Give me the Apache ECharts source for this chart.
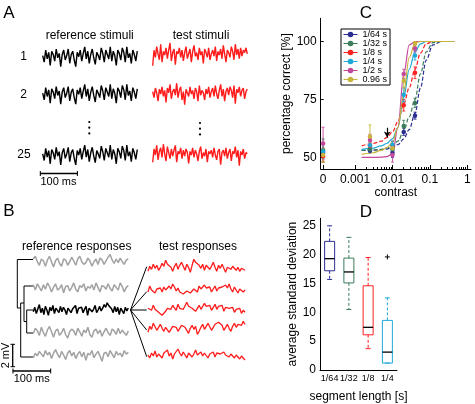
<!DOCTYPE html>
<html><head><meta charset="utf-8">
<script src="https://cdn.jsdelivr.net/npm/echarts@6/dist/echarts.min.js"></script>
<style>html,body{margin:0;padding:0;background:#fff}#c{width:475px;height:404px}</style>
</head><body><div id="c"></div>
<script>
// ---------------- DATA ----------------
// Panel A: stimulus traces
const A_REF_STIM = [0.1,-0.5,0.6,-0.2,0.4,-0.8,0.5,0.2,-0.4,0.7,-0.1,0.3,-0.9,0.2,0.6,-0.3,0.1,0.7,-0.6,0.2,0.5,-0.3,-0.9,0.4,0.0,0.6,-0.4,0.3,0.9,-0.2,0.5,-0.6,0.2,0.7,-0.1,-0.7,0.4,0.1,-0.3,0.8,0.3,-0.5,0.6,0.2,-0.2,0.9,-0.4,0.5,0.1,-0.8,0.6,0.3,-0.3,0.8,0.4,-0.5,0.9,-0.1,0.3,-0.6,0.6,0.2,-0.4,0.5];
const A_TEST_1 = [-0.9,0.4,-0.2,0.7,0.1,-0.4,0.9,-0.6,0.3,0.0,0.6,-0.3,0.4,1.0,-0.5,0.2,0.5,-0.8,0.3,0.1,0.6,-0.2,0.4,-0.5,0.2,0.7,-0.3,0.1,0.5,-0.6,0.3,0.8,-0.1,0.2,-0.4,0.6,0.0,0.3,-0.7,0.5,0.2,-0.2,0.6,-0.4,0.1,0.4,-0.1,0.7,-0.5,0.3,0.0,0.5,-0.3,0.8,0.1,-0.6,0.4,0.2,-0.2,0.7,0.3,-0.4,0.9,0.0,0.5,-0.3,0.6,-0.1,0.4,0.2,0.6,0.1];
const A_TEST_2 = [0.2,-0.3,0.5,0.1,-0.6,0.4,0.0,0.6,-0.2,0.3,-0.7,0.5,0.1,0.8,-0.4,0.2,0.4,-0.1,0.9,-0.3,0.3,0.6,-0.5,0.2,-0.9,0.4,0.1,-0.2,0.6,0.0,0.3,-0.4,0.5,0.2,-0.6,0.7,-0.1,0.3,0.1,-0.5,0.4,0.0,0.6,-0.3,0.2,0.5,-0.2,0.7,0.0,-0.4,0.3,0.8,-0.2,0.4,-0.6,0.2,0.5,-0.1,0.6,0.3,-0.3,0.7,-0.8,0.4,0.1,0.6,-0.2,0.3,0.5,-0.4,0.2,0.4];
const A_TEST_3 = [-0.6,0.5,0.0,0.8,-0.4,0.3,0.6,-0.2,0.9,0.1,-0.5,0.7,0.2,-0.3,0.5,-0.1,0.4,0.8,-0.6,0.3,0.1,0.6,-0.3,0.4,-0.1,0.5,0.2,-0.7,0.3,0.0,0.6,-0.2,0.4,0.1,-0.5,0.3,0.7,-0.3,0.2,-0.1,0.5,-0.6,0.3,0.1,0.4,-0.2,0.6,0.0,-0.4,0.3,0.5,-0.8,0.2,0.4,-0.1,0.6,-0.3,0.2,0.5,-0.5,0.3,0.1,0.7,-0.2,0.4,-0.9,0.3,0.0,0.5,-0.3,0.2,0.1];
const A_ROW_LABELS = ['1','2','25'];

// Panel B: response traces
const B_REF_1 = [0.3,0.6,0.0,-0.4,0.3,0.1,-0.5,0.2,0.6,0.0,-0.6,0.1,0.4,-0.2,-0.5,0.3,0.2,-0.4,0.0,0.5,0.1,-0.4,0.3,0.6,0.0,-0.3,-0.1,0.4,0.1,-0.5,0.0,0.3,-0.3,0.4,0.2,-0.3,0.1,0.5,0.8,0.2,-0.2,0.3,-0.1,0.4,0.0,-0.3,0.2,0.3];
const B_REF_2 = [0.4,-0.2,0.5,0.1,-0.3,0.4,-0.1,0.6,0.2,-0.4,0.1,0.5,-0.2,0.0,0.4,-0.5,0.2,0.3,-0.3,0.1,0.6,-0.1,-0.4,0.3,0.1,0.5,-0.3,0.2,0.0,0.4,-0.2,0.6,0.1,-0.4,0.3,0.2,-0.1,0.5,0.0,-0.3,0.4,0.1,-0.2,0.6,0.2,-0.4,0.1,0.3];
const B_REF_BLACK = [-0.2,0.3,-0.4,0.1,0.6,-0.3,0.2,-0.5,0.4,0.0,-0.6,0.3,-0.1,0.5,-0.4,0.2,0.1,-0.3,0.4,-0.2,0.3,0.0,-0.5,0.2,0.4,-0.3,0.1,-0.1,0.5,-0.4,0.2,0.0,0.3,-0.3,0.1,0.4,-0.6,0.2,0.3,-0.2,0.1,0.5,-0.3,0.0,0.4,-0.1,0.2,0.6,0.3,0.8,0.5,0.7,0.1,-0.3,0.4,-0.2,0.3,-0.5,0.2,0.1,-0.4,0.3,-0.1,0.2];
const B_REF_3 = [-0.1,0.5,0.2,-0.3,0.6,0.0,-0.4,0.3,0.7,0.1,-0.5,0.2,0.4,-0.3,0.0,0.5,-0.2,-0.6,0.1,0.4,0.2,-0.3,0.5,0.1,-0.4,0.3,0.0,0.6,-0.2,-0.5,0.2,0.4,-0.1,0.3,-0.4,0.1,0.5,0.0,-0.3,0.4,0.2,-0.2,0.5,-0.1,0.3,0.0,-0.3,0.2];
const B_REF_4 = [-0.3,0.2,-0.1,0.4,0.1,-0.2,0.5,0.0,0.3,-0.4,0.2,0.6,0.1,-0.3,0.4,0.0,-0.5,0.2,0.5,-0.1,0.3,-0.4,0.1,0.4,-0.2,0.3,-0.6,0.2,0.0,0.5,-0.3,0.1,0.4,-0.1,-0.7,0.2,0.3,-0.2,0.5,0.1,-0.3,0.4,0.0,0.2,-0.2,0.5,0.1,0.3];
const B_TEST_1 = [-0.3,0.2,-0.1,0.4,0.0,0.3,-0.2,0.1,0.5,0.2,0.8,0.4,0.6,0.1,-0.3,0.2,0.5,-0.1,0.3,0.6,0.2,-0.2,0.4,0.1,-0.4,0.3,0.9,0.6,0.7,0.3,0.0,0.4,-0.2,0.3,0.5,-0.1,0.2,0.6,0.1,-0.3,0.3,0.0,0.4,0.2,-0.4,0.1,0.3,-0.1,0.2,0.0,-0.2,0.1,-0.3,0.0,-0.1,-0.2];
const B_TEST_2 = [-0.2,0.4,0.0,0.2,-0.3,0.1,-0.1,0.2,-0.2,0.3,0.0,-0.1,0.4,0.1,0.6,0.3,-0.1,0.2,-0.2,0.0,-0.4,-0.2,-0.1,0.0,-0.3,-0.1,0.1,0.3,-0.2,0.4,0.1,-0.1,0.5,0.2,0.0,0.3,-0.2,0.1,0.4,-0.1,0.2,0.0,0.3,0.1,0.5,0.2,0.6,0.1,-0.2,0.3,0.0,-0.3,0.1,-0.1,-0.2,0.0];
const B_TEST_3 = [0.1,0.3,-0.1,0.4,0.0,0.2,-0.3,-0.5,-0.6,-0.4,-0.2,0.1,0.3,0.0,0.4,0.2,-0.1,0.5,0.1,0.3,0.0,0.2,0.7,0.3,0.5,0.1,0.3,-0.2,0.1,0.4,0.0,0.2,0.6,0.3,0.1,0.4,-0.1,0.2,0.5,0.0,0.3,0.1,0.4,-0.2,0.2,0.0,0.1,-0.1,0.2,-0.3,0.0,-0.2,0.1,-0.4,-0.1,-0.3];
const B_TEST_4 = [-0.4,0.2,-0.1,0.5,0.3,-0.2,0.1,0.4,0.0,-0.3,0.1,0.3,-0.4,-0.1,0.2,0.4,0.1,-0.3,0.0,0.3,0.5,0.1,-0.2,-0.5,0.0,0.3,-0.1,0.2,-0.6,-0.3,0.1,0.4,-0.1,0.2,0.5,0.3,-0.2,0.1,0.4,0.2,0.6,0.7,0.3,-0.2,0.1,0.4,0.0,-0.3,0.2,0.5,0.1,0.4,0.6,0.3,0.7,0.4];
const B_TEST_5 = [0.0,-0.3,0.2,-0.1,0.4,-0.2,0.1,0.3,-0.3,0.2,0.0,0.5,-0.1,0.2,-0.4,0.1,0.3,0.6,0.2,-0.1,0.3,0.0,-0.3,0.2,0.4,-0.2,0.1,0.5,0.0,-0.2,0.3,-0.1,0.2,0.4,-0.3,0.1,0.0,0.3,-0.2,0.2,0.4,0.1,-0.1,0.3,0.0,0.2,-0.2,0.1,0.3,-0.3,0.0,0.2,-0.4,-0.1,-0.3,-0.5];

// Panel C: psychometric data
const C_NAMES = ['1/64 s','1/32 s','1/8 s','1/4 s','1/2 s','0.96 s'];
const C_CONTRASTS = [0, 0.0025, 0.01, 0.02, 0.04];
const C_MEAN_164 = [52, 53, 52, 61, 68];
const C_MEAN_132 = [53, 53.5, 53.5, 63.5, 73.5];
const C_MEAN_18  = [50.5, 55, 55, 72.5, 86.5];
const C_MEAN_14  = [52.5, 55.2, 55.5, 77, 94];
const C_MEAN_12  = [56, 57.5, 51, 86, 97];
const C_MEAN_096 = [51, 59, 54, 83, 99];
const C_ERR_164 = [2, 1, 2, 1.5, 1.5];
const C_ERR_132 = [5, 1, 2, 2.5, 2];
const C_ERR_18  = [2.5, 1.5, 2, 2.5, 2.5];
const C_ERR_14  = [3, 1.5, 1.5, 3, 2];
const C_ERR_12  = [7, 2.5, 3, 2, 1.5];
const C_ERR_096 = [3, 5, 1.5, 3, 1];
const C_CURVE_CONTRASTS = [0.0015, 0.003, 0.005, 0.007, 0.01, 0.014, 0.02, 0.028, 0.04, 0.056, 0.08, 0.12, 0.2, 0.45];
const C_FIT_164 = [53, 53.1, 53.3, 53.6, 54.2, 55.5, 58, 62, 69, 80, 92, 98.5, 100, 100];
const C_FIT_132 = [53, 53.2, 53.5, 54, 55, 57, 61.5, 67.5, 75, 86, 95.5, 99.5, 100, 100];
const C_FIT_18  = [55, 56, 57, 58.5, 61, 65.5, 73, 80, 88, 95, 99, 100, 100, 100];
const C_FIT_14  = [53.5, 54, 55, 56, 58, 63, 76, 88, 95.5, 99, 100, 100, 100, 100];
const C_FIT_12  = [50, 50, 50.1, 50.3, 51.5, 63, 86, 98.5, 100, 100, 100, 100, 100, 100];
const C_FIT_096 = [51.3, 52, 53, 54.2, 56.5, 63, 78, 93, 99.3, 100, 100, 100, 100, 100];
const C_ARROW_CONTRAST = 0.0072;
const C_ARROW_FROM = 62.8, C_ARROW_TO = 58.6;
const C_X_TICK_LABELS = ['0', '0.001', '0.01', '0.1', '1'];
const C_Y_TICKS = [50, 75, 100];

// Panel D: box plots
const D_CATEGORIES = ['1/64', '1/32', '1/8', '1/4'];
const D_MIN    = [15.7, 10.5, 3.7, 1.2];
const D_Q1     = [17.2, 15.1, 6.1, 1.2];
const D_MEDIAN = [19.3, 17.0, 7.4, 3.1];
const D_Q3     = [22.3, 19.4, 14.6, 8.6];
const D_MAX    = [25.0, 23.0, 19.5, 12.5];
const D_OUTLIERS = [[3, 19.6]];
const D_Y_TICKS = [0, 5, 10, 15, 20, 25];

// ---------------- STYLE ----------------
const FONT = 'Liberation Sans, Arial, sans-serif';
const COLORS = ['#2b2f93', '#3c7c5c', '#ff2020', '#1ea8d8', '#c4489c', '#c8b43c'];
const DASHED = [true, true, true, false, false, false];
const RED = '#ff1c1c', GRAY = '#a2a2a2';

const grids = [], xAxes = [], yAxes = [], series = [];

function traceGrid(left, top, width, height, data, color, lw) {
  const gi = grids.length;
  grids.push({left, top, width, height});
  xAxes.push({type: 'value', gridIndex: gi, min: 0, max: data.length - 1, show: false});
  yAxes.push({type: 'value', gridIndex: gi, min: -1, max: 1, show: false});
  series.push({type: 'line', xAxisIndex: gi, yAxisIndex: gi, silent: true,
    data: data.map((v, i) => [i, v]), symbol: 'none',
    lineStyle: {color, width: lw}});
}

// Panel A traces
[[A_REF_STIM, 56.7], [A_REF_STIM, 94.3], [A_REF_STIM, 155]].forEach(([d, cy]) =>
  traceGrid(42.7, cy - 11, 94.6, 22, d, '#000', 1.4));
[[A_TEST_1, 55], [A_TEST_2, 94], [A_TEST_3, 155]].forEach(([d, cy]) =>
  traceGrid(152.7, cy - 12, 94.6, 24, d, RED, 1.4));
// Panel B traces
[[B_REF_1, 261.7, GRAY], [B_REF_2, 288.3, GRAY], [B_REF_BLACK, 310, '#000'], [B_REF_3, 332.7, GRAY], [B_REF_4, 355, GRAY]]
  .forEach(([d, cy, col]) => traceGrid(33.3, cy - 9, 95, 18, d, col, 1.5));
[[B_TEST_1, 268.3], [B_TEST_2, 290], [B_TEST_3, 309.3], [B_TEST_4, 328.3], [B_TEST_5, 355]]
  .forEach(([d, cy]) => traceGrid(148, cy - 10, 97, 20, d, RED, 1.3));

// Panel C
const ZERO_POS = -3.856;
const C_XMIN = -3.92, C_XMAX = 0.1;
const cx = c => (c === 0 ? ZERO_POS : Math.log10(c));
const C_RECT = {left: 320.7, top: 18.3, width: 150.3, height: 150.7};
const MAJOR = [ZERO_POS, -3, -2, -1, 0];
const minorTicks = [];
[-3, -2, -1].forEach(e => { for (let k = 2; k <= 9; k++) minorTicks.push(Math.log10(k) + e); });

// minor-tick grid (same rectangle)
const gCm = grids.length;
grids.push(Object.assign({}, C_RECT));
xAxes.push({type: 'value', gridIndex: gCm, min: C_XMIN, max: C_XMAX,
  axisLine: {show: false, onZero: false}, axisLabel: {show: false}, splitLine: {show: false},
  axisTick: {show: true, inside: true, length: 2, customValues: minorTicks, lineStyle: {color: '#000'}}});
yAxes.push({type: 'value', gridIndex: gCm, min: 45, max: 110, show: false, axisLine: {onZero: false}});

const gC = grids.length;
grids.push(Object.assign({}, C_RECT));
xAxes.push({type: 'value', gridIndex: gC, min: C_XMIN, max: C_XMAX,
  axisLine: {show: true, onZero: false, lineStyle: {color: '#000', width: 1}},
  axisTick: {inside: true, length: 4, customValues: MAJOR, lineStyle: {color: '#000'}},
  axisLabel: {customValues: MAJOR, margin: 5, color: '#000', fontSize: 12, fontFamily: FONT,
    formatter: v => C_X_TICK_LABELS[MAJOR.findIndex(t => Math.abs(t - v) < 1e-6)]},
  splitLine: {show: false},
  name: 'contrast', nameLocation: 'middle', nameGap: 16,
  nameTextStyle: {color: '#000', fontSize: 12, fontFamily: FONT}});
yAxes.push({type: 'value', gridIndex: gC, min: 45, max: 110,
  axisLine: {show: true, onZero: false, lineStyle: {color: '#000'}},
  axisTick: {inside: true, length: 3, customValues: C_Y_TICKS, lineStyle: {color: '#000'}},
  axisLabel: {customValues: C_Y_TICKS, margin: 4, color: '#000', fontSize: 12, fontFamily: FONT},
  splitLine: {show: false},
  name: 'percentage correct [%]', nameLocation: 'middle', nameGap: 21,
  nameTextStyle: {color: '#000', fontSize: 12, fontFamily: FONT}});
const cxi = xAxes.length - 1, cyi = yAxes.length - 1;

const MEANS = [C_MEAN_164, C_MEAN_132, C_MEAN_18, C_MEAN_14, C_MEAN_12, C_MEAN_096];
const ERRS = [C_ERR_164, C_ERR_132, C_ERR_18, C_ERR_14, C_ERR_12, C_ERR_096];
const FITS = [C_FIT_164, C_FIT_132, C_FIT_18, C_FIT_14, C_FIT_12, C_FIT_096];

FITS.forEach((fit, s) => {
  series.push({type: 'line', name: 'fit' + s, xAxisIndex: cxi, yAxisIndex: cyi, silent: true,
    data: C_CURVE_CONTRASTS.map((c, i) => [cx(c), fit[i]]), symbol: 'none', smooth: 0.35, smoothMonotone: 'x',
    lineStyle: {color: COLORS[s], width: 1.2, type: DASHED[s] ? [4, 2] : 'solid'}, z: 3});
});
MEANS.forEach((m, s) => {
  series.push({type: 'custom', name: 'err' + s, xAxisIndex: cxi, yAxisIndex: cyi, silent: true,
    data: C_CONTRASTS.map((c, i) => [cx(c), m[i] - ERRS[s][i], m[i] + ERRS[s][i]]),
    renderItem: (p, api) => {
      const lo = api.coord([api.value(0), api.value(1)]);
      const hi = api.coord([api.value(0), api.value(2)]);
      const st = {stroke: COLORS[s], lineWidth: 0.9};
      return {type: 'group', children: [
        {type: 'line', shape: {x1: lo[0], y1: lo[1], x2: hi[0], y2: hi[1]}, style: st},
        {type: 'line', shape: {x1: lo[0] - 1.5, y1: lo[1], x2: lo[0] + 1.5, y2: lo[1]}, style: st},
        {type: 'line', shape: {x1: hi[0] - 1.5, y1: hi[1], x2: hi[0] + 1.5, y2: hi[1]}, style: st}]};
    }, z: 4});
  const ser = {type: 'line', name: C_NAMES[s], xAxisIndex: cxi, yAxisIndex: cyi,
    data: C_CONTRASTS.map((c, i) => [cx(c), m[i]]), symbol: 'circle', symbolSize: 4.5,
    itemStyle: {color: COLORS[s]}, lineStyle: {color: COLORS[s], opacity: 0, width: 1}, z: 5};
  if (s === 0) {
    ser.markLine = {silent: true, symbol: ['none', 'arrow'], symbolSize: [5, 6], label: {show: false},
      lineStyle: {color: '#000', width: 1.2, type: 'solid'},
      data: [[{coord: [cx(C_ARROW_CONTRAST), C_ARROW_FROM]}, {coord: [cx(C_ARROW_CONTRAST), C_ARROW_TO]}]]};
  }
  series.push(ser);
});

// Panel D
const gD = grids.length;
grids.push({left: 320, top: 218.3, width: 77, height: 151.7});
xAxes.push({type: 'category', gridIndex: gD, data: D_CATEGORIES, boundaryGap: true,
  axisLine: {onZero: false, lineStyle: {color: '#000'}},
  axisTick: {inside: true, alignWithLabel: true, length: 3, lineStyle: {color: '#000'}},
  axisLabel: {color: '#000', fontSize: 9, fontFamily: FONT, margin: 4, interval: 0, hideOverlap: false},
  name: 'segment length [s]', nameLocation: 'middle', nameGap: 21,
  nameTextStyle: {color: '#000', fontSize: 12, fontFamily: FONT}});
yAxes.push({type: 'value', gridIndex: gD, min: 0, max: 26.3,
  axisLine: {show: true, onZero: false, lineStyle: {color: '#000'}},
  axisTick: {inside: true, length: 3, customValues: D_Y_TICKS, lineStyle: {color: '#000'}},
  axisLabel: {customValues: D_Y_TICKS, margin: 4, color: '#000', fontSize: 12, fontFamily: FONT},
  splitLine: {show: false},
  name: 'average standard deviation', nameLocation: 'middle', nameGap: 21,
  nameTextStyle: {color: '#000', fontSize: 12, fontFamily: FONT}});
const dxi = xAxes.length - 1, dyi = yAxes.length - 1;
series.push({type: 'custom', xAxisIndex: dxi, yAxisIndex: dyi, silent: true,
  data: D_CATEGORIES.map((c, i) => [i, D_MIN[i], D_Q1[i], D_MEDIAN[i], D_Q3[i], D_MAX[i]]),
  renderItem: (p, api) => {
    const i = api.value(0);
    const P = k => api.coord([i, api.value(k)]);
    const mn = P(1), q1 = P(2), md = P(3), q3 = P(4), mx = P(5);
    const x = mn[0], hw = 5, col = COLORS[p.dataIndex];
    const solid = {stroke: col, lineWidth: 1, fill: null};
    const dash = {stroke: col, lineWidth: 1, lineDash: [3, 2]};
    const ch = [
      {type: 'line', shape: {x1: x, y1: q3[1], x2: x, y2: mx[1]}, style: dash},
      {type: 'line', shape: {x1: x, y1: q1[1], x2: x, y2: mn[1]}, style: dash},
      {type: 'line', shape: {x1: x - 2.5, y1: mx[1], x2: x + 2.5, y2: mx[1]}, style: solid},
      {type: 'line', shape: {x1: x - 2.5, y1: mn[1], x2: x + 2.5, y2: mn[1]}, style: solid},
      {type: 'rect', shape: {x: x - hw, y: q3[1], width: 2 * hw, height: q1[1] - q3[1]}, style: solid},
      {type: 'line', shape: {x1: x - hw, y1: md[1], x2: x + hw, y2: md[1]}, style: {stroke: '#000', lineWidth: 1.3}}];
    return {type: 'group', children: ch};
  }});
series.push({type: 'custom', xAxisIndex: dxi, yAxisIndex: dyi, silent: true, data: D_OUTLIERS,
  renderItem: (p, api) => {
    const c = api.coord([api.value(0), api.value(1)]);
    const st = {stroke: '#000', lineWidth: 1};
    return {type: 'group', children: [
      {type: 'line', shape: {x1: c[0] - 2.5, y1: c[1], x2: c[0] + 2.5, y2: c[1]}, style: st},
      {type: 'line', shape: {x1: c[0], y1: c[1] - 2.5, x2: c[0], y2: c[1] + 2.5}, style: st}]};
  }});

// ---------------- ANNOTATIONS ----------------
const T = (text, x, y, size, extra) => Object.assign({type: 'text', x, y, silent: true,
  style: {text, fill: '#000', font: size + 'px ' + FONT, align: 'center', verticalAlign: 'middle'}}, extra || {});
const L = (x1, y1, x2, y2, w) => ({type: 'line', silent: true, shape: {x1, y1, x2, y2}, style: {stroke: '#000', lineWidth: w || 1}});
const dot = (x, y) => ({type: 'circle', silent: true, shape: {cx: x, cy: y, r: 1.1}, style: {fill: '#000'}});

const graphic = [
  T('A', 9, 13, 17), T('B', 9, 211, 17), T('C', 366, 13, 17), T('D', 366, 212, 17),
  T('reference stimuli', 89.7, 35.5, 12), T('test stimuli', 201, 35.5, 12),
  T(A_ROW_LABELS[0], 23.5, 56.7, 12), T(A_ROW_LABELS[1], 23.5, 94.3, 12), T(A_ROW_LABELS[2], 24, 155, 12),
  dot(89.3, 122), dot(89.3, 127.7), dot(89.3, 133.4), dot(200, 123), dot(200, 128.7), dot(200, 134.4),
  L(40, 173.5, 77.7, 173.5, 1.3), L(40.3, 171, 40.3, 176), L(77.4, 171, 77.4, 176),
  T('100 ms', 58.5, 181.5, 11),
  T('reference responses', 76.7, 246.7, 12), T('test responses', 198, 246.7, 12),
  // dendrogram
  L(17.3, 259.5, 33, 259.5), L(17.3, 259.5, 17.3, 308), L(17.3, 308, 20.7, 308),
  L(20.7, 303, 20.7, 357), L(20.7, 357, 33, 357), L(20.7, 303, 24, 303),
  L(24, 286, 24, 321.5), L(24, 286, 33, 286), L(24, 321.5, 26.7, 321.5),
  L(26.7, 310, 26.7, 333), L(26.7, 310, 33, 310), L(26.7, 333, 33, 333),
  // fan to test responses
  L(130.5, 310, 146.7, 266.7), L(130.5, 310, 146.7, 291.7), L(130.5, 310, 146.7, 310),
  L(130.5, 310, 146.7, 330), L(130.5, 310, 146.7, 356.7),
  // B scale bars
  L(12.7, 344.3, 12.7, 366.7, 1.3), L(10.5, 344.3, 15, 344.3), L(10.5, 366.7, 15, 366.7),
  T('2 mV', 6, 355.5, 11, {rotation: Math.PI / 2}),
  L(12.7, 371, 51, 371, 1.3), L(13, 368.5, 13, 373.5), L(50.7, 368.5, 50.7, 373.5),
  T('100 ms', 31.7, 378.5, 11)
];

const chart = echarts.init(document.getElementById('c'), null, {renderer: 'canvas'});
chart.setOption({
  animation: false,
  backgroundColor: '#fff',
  textStyle: {fontFamily: FONT},
  grid: grids, xAxis: xAxes, yAxis: yAxes, series,
  legend: {data: C_NAMES, orient: 'vertical', left: 341, top: 29, padding: [1, 3, 1, 2],
    borderColor: '#000', borderWidth: 1, itemWidth: 14, itemHeight: 7, itemGap: 0,
    textStyle: {fontSize: 9, lineHeight: 8.7, color: '#000', fontFamily: FONT},
    lineStyle: {opacity: 1, width: 1}, itemStyle: {opacity: 1}, selectedMode: false},
  graphic
});
</script></body></html>
